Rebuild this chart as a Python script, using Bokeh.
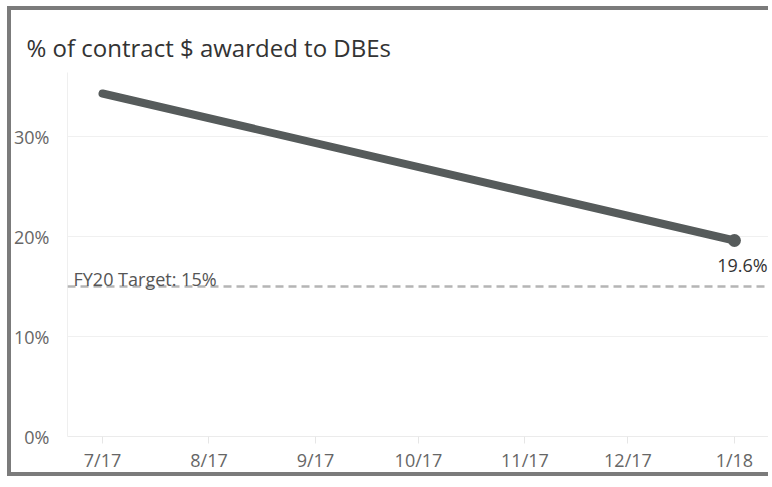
from datetime import datetime
from bokeh.plotting import figure
from bokeh.models import Range1d, FixedTicker, Span, Label
from bokeh.embed import file_html
from bokeh.resources import INLINE

# ---- data ----
dates = ["2017-07-01", "2018-01-01"]
pct = [34.3, 19.6]
tick_dates = ["2017-07-01", "2017-08-01", "2017-09-01", "2017-10-01",
              "2017-11-01", "2017-12-01", "2018-01-01"]
tick_labels = ["7/17", "8/17", "9/17", "10/17", "11/17", "12/17", "1/18"]
y_ticks = [0, 10, 20, 30]
y_labels = ["0%", "10%", "20%", "30%"]
target = 15
target_label = "FY20 Target: 15%"
last_label = "19.6%"
title = "% of contract $ awarded to DBEs"

def ms(s):
    return datetime.strptime(s, "%Y-%m-%d").timestamp() * 1000.0

xs = [ms(d) for d in dates]
tx = [ms(d) for d in tick_dates]
DAY = 86400000.0

FONT = "Open Sans"
W, H = 761, 470
ML, MT, MB, MR = 56, 62, 44, 2

p = figure(width=W, height=H, output_backend="svg", toolbar_location=None,
           x_range=Range1d(tx[0] - 10.2 * DAY, tx[-1] + 10.5 * DAY),
           y_range=Range1d(0, 36.4),
           min_border_left=ML, min_border_right=MR, min_border_top=MT, min_border_bottom=MB)
p.styles = {"border-left": "4px solid #7b7b7b", "border-top": "4px solid #7b7b7b",
            "border-bottom": "4px solid #7b7b7b", "margin-left": "7px", "margin-top": "6px"}
p.outline_line_color = None
p.background_fill_color = "white"
p.border_fill_color = "white"

# title
p.title.text = title
p.title.text_font = FONT
p.title.text_font_size = "24px"
p.title.text_font_style = "normal"
p.title.text_color = "#333333"
p.title.align = "left"
p.title.offset = 15 - ML
p.title.standoff = 17

# axes
p.xaxis.ticker = FixedTicker(ticks=tx)
p.xaxis.major_label_overrides = {t: l for t, l in zip(tx, tick_labels)}
p.xaxis.axis_line_color = "#ebebeb"
p.xaxis.major_tick_line_color = "#e6e6e6"
p.xaxis.major_tick_out = 7
p.xaxis.major_tick_in = 0
p.xaxis.minor_tick_line_color = None
p.xaxis.major_label_standoff = 4

p.yaxis.ticker = FixedTicker(ticks=y_ticks)
p.yaxis.major_label_overrides = {t: l for t, l in zip(y_ticks, y_labels)}
p.yaxis.axis_line_color = "#efefef"
p.yaxis.major_tick_line_color = None
p.yaxis.minor_tick_line_color = None
p.yaxis.major_label_standoff = 12

for ax in (p.xaxis, p.yaxis):
    ax.major_label_text_font = FONT
    ax.major_label_text_font_size = "18px"
    ax.major_label_text_color = "#666666"

p.xgrid.grid_line_color = None
p.ygrid.ticker = FixedTicker(ticks=[t for t in y_ticks if t > 0])
p.ygrid.grid_line_color = "#f0f0f0"

# target line
p.add_layout(Span(location=target, dimension="width", line_color="#b5b5b5",
                  line_width=2.5, line_dash="8 5"))
p.add_layout(Label(x=p.x_range.start, y=target, x_offset=6, y_offset=8,
                   text=target_label, text_font=FONT, text_font_size="18px",
                   text_color="#555555", text_baseline="alphabetic"))

# series
p.line(xs, pct, line_width=8, line_color="#565b5b", line_cap="round")
p.scatter([xs[-1]], [pct[-1]], size=13, fill_color="#565b5b", line_color=None)
p.add_layout(Label(x=xs[-1], y=pct[-1], x_offset=8, y_offset=-12,
                   text=last_label, text_font=FONT, text_font_size="18px",
                   text_color="#333333", text_align="center", text_baseline="top"))

open("out.html", "w").write(file_html(p, INLINE))
